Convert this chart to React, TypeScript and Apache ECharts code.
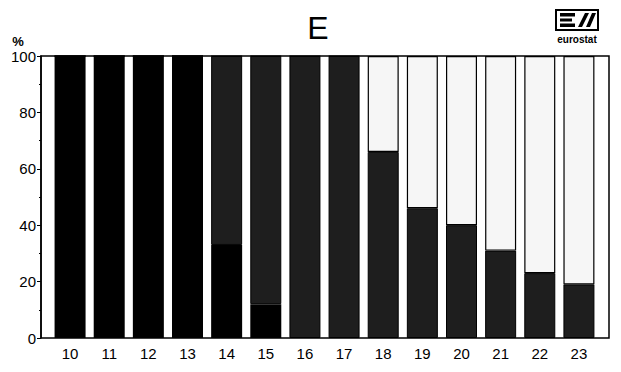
import React, { useEffect, useRef } from "react";
import * as echarts from "echarts";

const categories = ["10", "11", "12", "13", "14", "15", "16", "17", "18", "19", "20", "21", "22", "23"];
const blackShare = [100, 100, 100, 100, 33, 12, 0, 0, 0, 0, 0, 0, 0, 0];
const darkShare = [0, 0, 0, 0, 67, 88, 100, 100, 66, 46, 40, 31, 23, 19];
const lightShare = [0, 0, 0, 0, 0, 0, 0, 0, 34, 54, 60, 69, 77, 81];
const yTicks = [0, 20, 40, 60, 80, 100];

const logoD =
  "M0 0 L44 0 L44 22 L0 22 Z M2 2 L2 20 L42 20 L42 2 Z " +
  "M5 4 L20 4 L20 7.5 L5 7.5 Z M5 9.5 L17 9.5 L17 12.5 L5 12.5 Z M5 14.5 L20 14.5 L20 18 L5 18 Z " +
  "M23 18 L27 18 L34 4 L30 4 Z M31 18 L35 18 L41 4 L37 4 Z";

echarts.graphic.registerShape("logo", echarts.graphic.extendPath(logoD, {}) as any);

export default function App() {
  const ref = useRef<HTMLDivElement>(null);
  useEffect(() => {
    if (!ref.current) return;
    const chart = echarts.init(ref.current, undefined, { renderer: "svg" });
    const font = "Liberation Sans, Arial, sans-serif";
    chart.setOption({
      animation: false,
      backgroundColor: "#ffffff",
      grid: { left: 50.5, right: 22.5, top: 56, bottom: 34, containLabel: false },
      xAxis: {
        type: "category",
        data: categories,
        boundaryGap: true,
        axisLine: { show: false },
        axisTick: { show: false },
        axisLabel: { color: "#000", fontSize: 15, fontFamily: font, margin: 8 },
      },
      yAxis: {
        type: "value",
        min: 0,
        max: 100,
        interval: 20,
        offset: 9.5,
        axisLine: { show: true, lineStyle: { color: "#000", width: 1.5 } },
        axisTick: { show: true, length: 4, lineStyle: { color: "#000", width: 1 } },
        minorTick: { show: true, splitNumber: 2, length: 2, lineStyle: { color: "#000", width: 1 } },
        splitLine: { show: false },
        axisLabel: {
          color: "#000",
          fontSize: 15,
          fontFamily: font,
          margin: 5,
          formatter: (v: number) => (yTicks.includes(v) ? String(v) : ""),
        },
      },
      series: [
        {
          type: "bar",
          stack: "s",
          data: blackShare,
          barWidth: 31,
          itemStyle: { color: "#000000" },
        },
        {
          type: "bar",
          stack: "s",
          data: darkShare,
          barWidth: 31,
          itemStyle: { color: "#1e1e1e", borderColor: "#000", borderWidth: 1 },
        },
        {
          type: "bar",
          stack: "s",
          data: lightShare,
          barWidth: 31,
          itemStyle: { color: "#f6f6f6", borderColor: "#000", borderWidth: 1.2 },
        },
      ],
      graphic: [
        {
          type: "rect",
          shape: { x: 41, y: 56, width: 568, height: 282 },
          style: { fill: "none", stroke: "#000", lineWidth: 1.5 },
          z: 100,
        },
        {
          type: "text",
          x: 318,
          y: 28,
          style: {
            text: "E",
            fontSize: 32,
            fontFamily: font,
            fill: "#000",
            align: "center",
            verticalAlign: "middle",
          },
        },
        {
          type: "text",
          x: 18,
          y: 41,
          style: {
            text: "%",
            fontSize: 13,
            fontWeight: "bold",
            fontFamily: font,
            fill: "#000",
            align: "center",
            verticalAlign: "middle",
          },
        },
        {
          type: "logo",
          x: 555,
          y: 9,
          scaleX: 1,
          scaleY: 1,
          style: { fill: "#000" },
        },
        {
          type: "text",
          x: 577,
          y: 39,
          style: {
            text: "eurostat",
            fontSize: 10,
            fontWeight: "bold",
            fontFamily: font,
            fill: "#000",
            align: "center",
            verticalAlign: "middle",
          },
        },
      ],
    });
    return () => chart.dispose();
  }, []);
  return (
    <div
      ref={ref}
      style={{ position: "absolute", left: 0, top: 0, width: 621, height: 372 }}
    />
  );
}
